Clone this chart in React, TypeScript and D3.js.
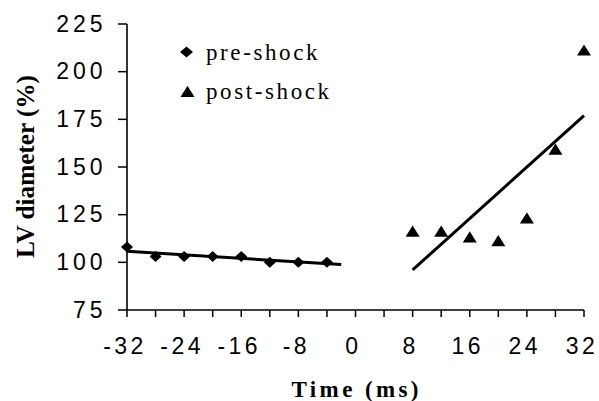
import React from "react";
import * as d3 from "d3";

const preTimes = [-32, -28, -24, -20, -16, -12, -8, -4];
const preValues = [108, 103, 103, 103, 103, 100, 100, 100];
const postTimes = [8, 12, 16, 20, 24, 28, 32];
const postValues = [116, 116, 113, 111, 123, 159, 211];
const preTrend = [[-32, 105.8], [-2, 98.8]];
const postTrend = [[8, 96], [32, 177]];
const xTickLabels = [-32, -24, -16, -8, 0, 8, 16, 24, 32];
const xMinorTicks = d3.range(-32, 33, 4);
const yTickLabels = [75, 100, 125, 150, 175, 200, 225];
const legendLabels = ["pre-shock", "post-shock"];

const W = 599, H = 401;
const x = d3.scaleLinear().domain([-32, 32]).range([127, 584]);
const y = d3.scaleLinear().domain([75, 225]).range([310, 24]);

const sans = "'Liberation Sans', Arial, sans-serif";
const serif = "'Liberation Serif', 'Times New Roman', serif";

const diamond = (w: number, h: number) => `M0,${-h / 2}L${w / 2},0L0,${h / 2}L${-w / 2},0Z`;
const triangle = (s: number) => `M0,${-s * 0.45}L${s * 0.5},${s * 0.35}L${-s * 0.5},${s * 0.35}Z`;

export default function App() {
  const line = d3.line<number[]>().x((d) => x(d[0])).y((d) => y(d[1]));
  return (
    <svg width={W} height={H} style={{ position: "absolute", left: 0, top: 0, background: "#fff" }}>
      <rect width={W} height={H} fill="#fff" />
      {/* axes */}
      <line x1={x(-32)} x2={x(-32)} y1={y(75)} y2={y(225)} stroke="#000" strokeWidth={1.6} />
      <line x1={x(-32)} x2={x(32)} y1={y(75)} y2={y(75)} stroke="#000" strokeWidth={1.6} />
      {yTickLabels.map((v) => (
        <g key={"y" + v}>
          <line x1={x(-32) - 9} x2={x(-32)} y1={y(v)} y2={y(v)} stroke="#000" strokeWidth={1.5} />
          <text x={106.5} y={y(v) + 7.8} textAnchor="end" fontFamily={sans} fontSize={23} letterSpacing={4}>
            {v}
          </text>
        </g>
      ))}
      {xMinorTicks.map((v) => (
        <line key={"xt" + v} x1={x(v)} x2={x(v)} y1={y(75)} y2={y(75) + 7} stroke="#000" strokeWidth={1.5} />
      ))}
      {xTickLabels.map((v) => (
        <text key={"xl" + v} x={x(v) - 2} y={353.5} textAnchor="middle" fontFamily={sans} fontSize={23} letterSpacing={3.5}>
          {v}
        </text>
      ))}
      {/* axis titles */}
      <text x={355} y={397} textAnchor="middle" fontFamily={serif} fontWeight="bold" fontSize={23}
        textLength={127} lengthAdjust="spacing">
        Time (ms)
      </text>
      <text
        transform={`translate(34,${166.5}) rotate(-90)`}
        textAnchor="middle"
        fontFamily={serif}
        fontWeight="bold"
        fontSize={25}
        textLength={183}
        lengthAdjust="spacingAndGlyphs"
      >
        LV diameter (%)
      </text>
      {/* trend lines */}
      <path d={line(preTrend as number[][]) || ""} stroke="#000" strokeWidth={3} fill="none" />
      <path d={line(postTrend as number[][]) || ""} stroke="#000" strokeWidth={3} fill="none" />
      {/* points */}
      {preTimes.map((t, i) => (
        <path key={"p" + t} d={diamond(12, 11)} transform={`translate(${x(t)},${y(preValues[i])})`} fill="#000" />
      ))}
      {postTimes.map((t, i) => (
        <path key={"q" + t} d={triangle(14)} transform={`translate(${x(t)},${y(postValues[i])})`} fill="#000" />
      ))}
      {/* legend */}
      <path d={diamond(13, 11)} transform="translate(186.5,52)" fill="#000" />
      <text x={206} y={60} fontFamily={serif} fontSize={23} letterSpacing={2.6}>
        {legendLabels[0]}
      </text>
      <path d={triangle(14)} transform="translate(187.5,92)" fill="#000" />
      <text x={206} y={99} fontFamily={serif} fontSize={23} letterSpacing={2.6}>
        {legendLabels[1]}
      </text>
    </svg>
  );
}
